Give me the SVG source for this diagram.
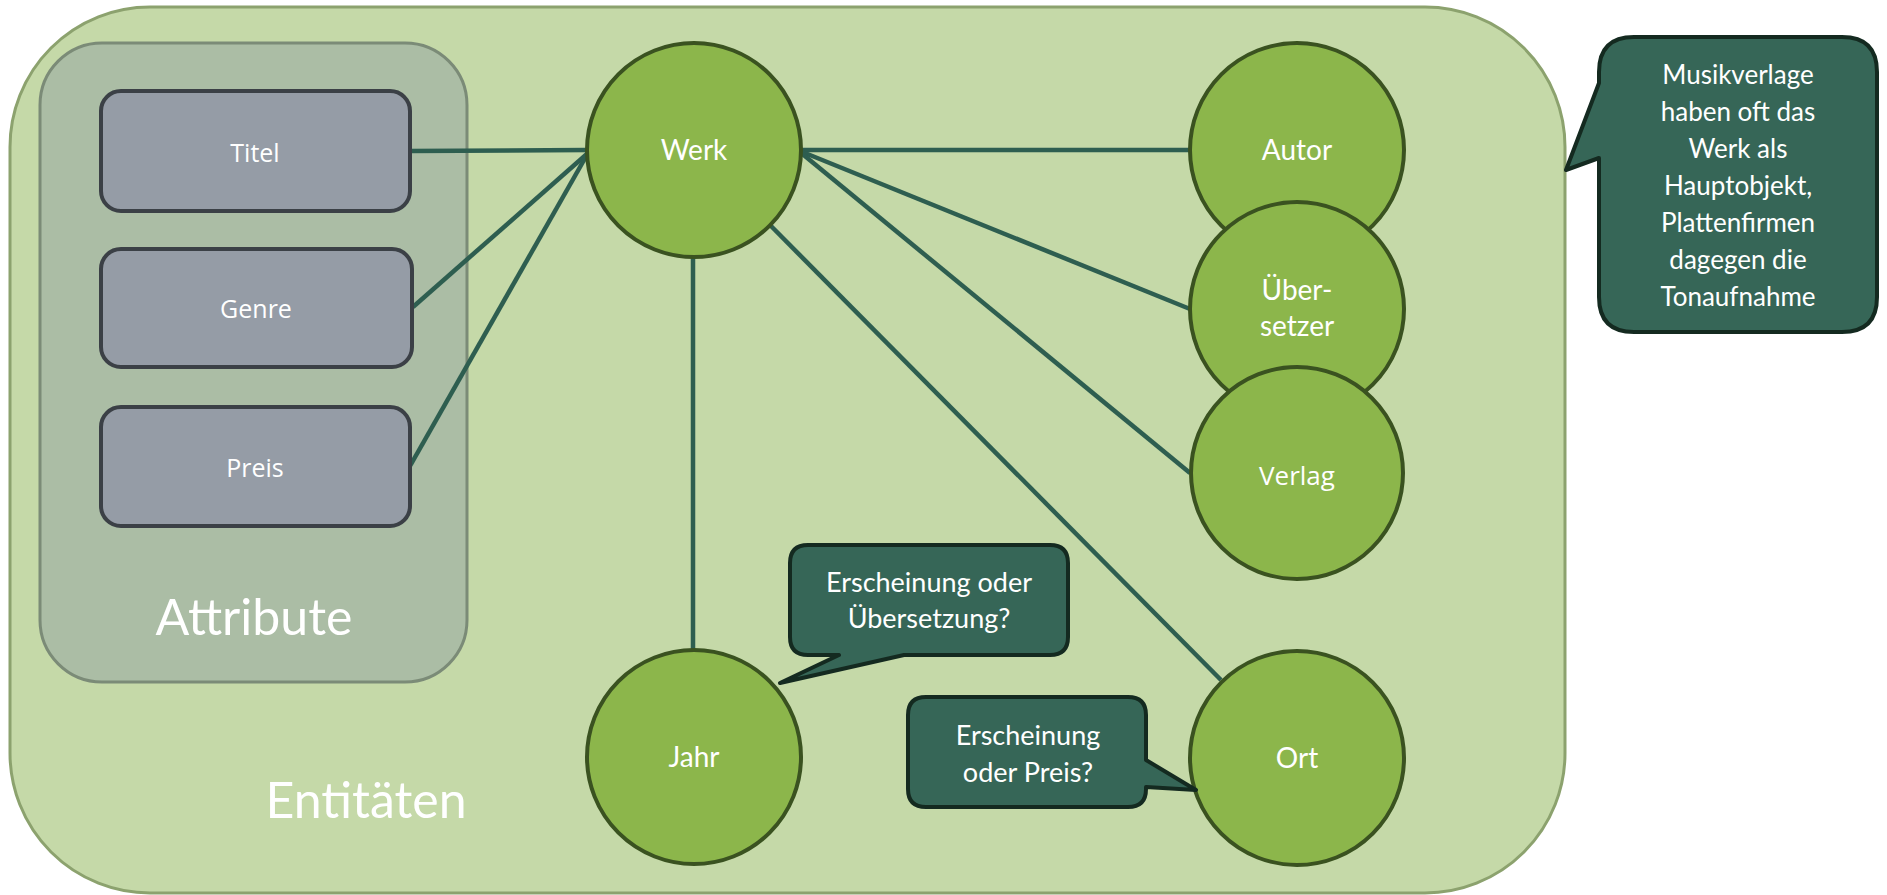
<svg xmlns="http://www.w3.org/2000/svg" width="1887" height="895" viewBox="0 0 1887 895">
  <style>
    .outer { fill: #c5d9a8; stroke: #8ca26e; stroke-width: 3; }
    .attrs { fill: #abbda5; stroke: #7b8b77; stroke-width: 3; }
    .box { fill: #959ca6; stroke: #3b4046; stroke-width: 4; }
    .ent { fill: #8cb64b; stroke: #3a5220; stroke-width: 4; }
    .link { stroke: #2e5e50; stroke-width: 4.5; fill: none; }
    .note { fill: #366657; stroke: #142a20; stroke-width: 4; stroke-linejoin: round; }
    .t { fill: #ffffff; text-anchor: middle; }
    .gill { font-family: Lato, "Noto Sans", sans-serif; }
    .seg { font-family: "Open Sans", "Noto Sans", sans-serif; }
  </style>

  <!-- container: entities -->
  <g id="entitaeten">
    <rect class="outer" x="10" y="7" width="1555" height="886" rx="140" ry="140"/>
    <text class="t gill" x="366" y="818" font-size="50">Entitäten</text>
  </g>

  <!-- container: attributes -->
  <g id="attribute">
    <rect class="attrs" x="40" y="43" width="427" height="639" rx="62" ry="62"/>
    <text class="t gill" x="254" y="635" font-size="50">Attribute</text>
  </g>

  <!-- connectors -->
  <g id="connectors">
    <line class="link" x1="410" y1="151" x2="587" y2="150"/>
    <line class="link" x1="413" y1="307" x2="588" y2="153"/>
    <line class="link" x1="410" y1="466" x2="588" y2="153"/>
    <line class="link" x1="693" y1="257" x2="693" y2="650"/>
    <line class="link" x1="800" y1="150" x2="1190" y2="150"/>
    <line class="link" x1="800" y1="151" x2="1190" y2="309"/>
    <line class="link" x1="800" y1="152" x2="1190" y2="473"/>
    <line class="link" x1="771" y1="226" x2="1221" y2="680"/>
  </g>

  <!-- attribute boxes -->
  <g id="titel">
    <rect class="box" x="101" y="91" width="309" height="120" rx="20" ry="20"/>
    <text class="t seg" x="255" y="162" font-size="25">Titel</text>
  </g>
  <g id="genre">
    <rect class="box" x="101" y="249" width="311" height="118" rx="20" ry="20"/>
    <text class="t seg" x="256" y="318" font-size="25">Genre</text>
  </g>
  <g id="preis">
    <rect class="box" x="101" y="407" width="309" height="119" rx="20" ry="20"/>
    <text class="t seg" x="255" y="477" font-size="25">Preis</text>
  </g>

  <!-- entity circles -->
  <g id="werk">
    <circle class="ent" cx="694" cy="150" r="107"/>
    <text class="t gill" x="694" y="160" font-size="28">Werk</text>
  </g>
  <g id="autor">
    <circle class="ent" cx="1297" cy="150" r="107"/>
    <text class="t gill" x="1297" y="160" font-size="28">Autor</text>
  </g>
  <g id="uebersetzer">
    <circle class="ent" cx="1297" cy="309" r="107"/>
    <text class="t gill" x="1297" y="300" font-size="28">Über-</text>
    <text class="t gill" x="1297" y="336" font-size="28">setzer</text>
  </g>
  <g id="verlag">
    <circle class="ent" cx="1297" cy="473" r="106"/>
    <text class="t seg" x="1297" y="485" font-size="26">Verlag</text>
  </g>
  <g id="jahr">
    <circle class="ent" cx="694" cy="757" r="107"/>
    <text class="t gill" x="694" y="767" font-size="28">Jahr</text>
  </g>
  <g id="ort">
    <circle class="ent" cx="1297" cy="758" r="107"/>
    <text class="t gill" x="1297" y="768" font-size="28">Ort</text>
  </g>

  <!-- callouts -->
  <g id="note-jahr">
    <path class="note" d="M 808,545 H 1050 Q 1068,545 1068,563 V 637 Q 1068,655 1050,655 H 904 L 780,683 L 839,655 H 808 Q 790,655 790,637 V 563 Q 790,545 808,545 Z"/>
    <text class="t gill" x="929" y="592" font-size="27">Erscheinung oder</text>
    <text class="t gill" x="929" y="628" font-size="27">Übersetzung?</text>
  </g>
  <g id="note-ort">
    <path class="note" d="M 926,697 H 1128 Q 1146,697 1146,715 V 760 L 1196,790 L 1146,787 V 789 Q 1146,807 1128,807 H 926 Q 908,807 908,789 V 715 Q 908,697 926,697 Z"/>
    <text class="t gill" x="1028" y="745" font-size="27">Erscheinung</text>
    <text class="t gill" x="1028" y="782" font-size="27">oder Preis?</text>
  </g>
  <g id="note-verlage">
    <path class="note" d="M 1634,37 H 1842 Q 1877,37 1877,72 V 297 Q 1877,332 1842,332 H 1634 Q 1599,332 1599,297 V 158 L 1566,170 L 1599,83 V 72 Q 1599,37 1634,37 Z"/>
    <text class="t gill" x="1738" y="84" font-size="26">Musikverlage</text>
    <text class="t gill" x="1738" y="121" font-size="26">haben oft das</text>
    <text class="t gill" x="1738" y="158" font-size="26">Werk als</text>
    <text class="t gill" x="1738" y="195" font-size="26">Hauptobjekt,</text>
    <text class="t gill" x="1738" y="232" font-size="26">Plattenfirmen</text>
    <text class="t gill" x="1738" y="269" font-size="26">dagegen die</text>
    <text class="t gill" x="1738" y="306" font-size="26">Tonaufnahme</text>
  </g>
</svg>
